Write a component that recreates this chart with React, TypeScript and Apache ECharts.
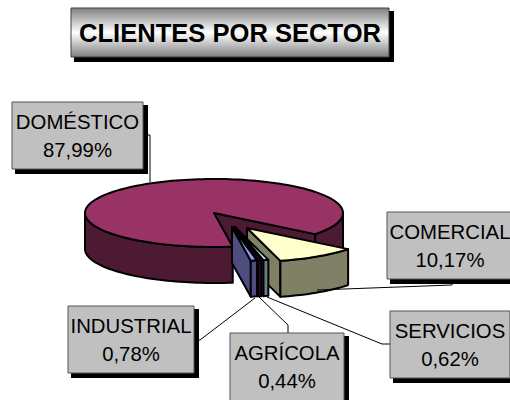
import React, { useEffect, useRef } from "react";
import * as echarts from "echarts";

const titleText = "CLIENTES POR SECTOR";
const categories = ["DOMÉSTICO", "COMERCIAL", "SERVICIOS", "AGRÍCOLA", "INDUSTRIAL"];
const shares = [87.99, 10.17, 0.62, 0.44, 0.78];
const shareLabels = ["87,99%", "10,17%", "0,62%", "0,44%", "0,78%"];

const topColors = ["#993366", "#FFFFCC", "#CCFFFF", "#660066", "#9999FF"];
const sideColors = ["#4D1A33", "#808066", "#668080", "#330033", "#4D4D80"];
const explodeX = [0, 33, 21, 19, 18];
const explodeY = [0, 15, 14, 14, 14];
const paintOrder = [0, 1, 2, 3, 4];
// label boxes: x, y, w, h
const boxes = [
  [12, 102, 131, 67],
  [387, 212, 126, 67],
  [390, 311, 120, 67],
  [230, 333, 114, 72],
  [68, 306, 126, 67],
];
const leaders = [
  [[150, 182], [150, 135], [147, 135]],
  [[317, 290], [452, 285], [452, 283]],
  [[267, 297], [382, 344], [390, 344]],
  [[259, 297], [288, 325], [288, 333]],
  [[255, 298], [200, 340], [197, 340]],
];

const CX = 214, CY = 213, RX = 129, RY = 34, DEPTH = 36;
const START = 38.4; // degrees, in ellipse parameter, screen-clockwise

function sliceAngles() {
  const total = shares.reduce((a, b) => a + b, 0);
  const out: number[][] = [];
  let a = START + (-shares[0] / total) * 360; // Doméstico ends at START
  for (let i = 0; i < shares.length; i++) {
    const sweep = (shares[i] / total) * 360;
    out.push([a, a + sweep]);
    a += sweep;
  }
  return out;
}

const D2R = Math.PI / 180;
function arcPts(cx: number, cy: number, a0: number, a1: number) {
  const n = Math.max(2, Math.ceil(Math.abs(a1 - a0) / 2));
  const pts: number[][] = [];
  for (let i = 0; i <= n; i++) {
    const t = (a0 + ((a1 - a0) * i) / n) * D2R;
    pts.push([cx + RX * Math.cos(t), cy + RY * Math.sin(t)]);
  }
  return pts;
}

function polygon(points: number[][], fill: string) {
  return {
    type: "polygon",
    shape: { points },
    style: { fill, stroke: "#000", lineWidth: 2, lineJoin: "round" },
    silent: true,
  };
}

function renderSlice(_: any, api: any) {
  const i = api.value(0) as number;
  const [a0, a1] = sliceAngles()[i];
  const cx = CX + explodeX[i];
  const cy = CY + explodeY[i];
  const children: any[] = [];
  const P = (a: number) => [cx + RX * Math.cos(a * D2R), cy + RY * Math.sin(a * D2R)];

  // Cut wall at the slice's far end, the one that faces the viewer
  const p = P(a1);
  children.push(polygon([[cx, cy], p, [p[0], p[1] + DEPTH], [cx, cy + DEPTH]], sideColors[i]));

  // Outer wall: only the part with sin(t) >= 0 shows
  for (const k of [0, 360, -360]) {
    const lo = Math.max(a0, k);
    const hi = Math.min(a1, 180 + k);
    if (hi > lo) {
      const top = arcPts(cx, cy, lo, hi);
      const bottom = top.map((q) => [q[0], q[1] + DEPTH]).reverse();
      children.push(polygon([...top, ...bottom], sideColors[i]));
    }
  }

  // Top face
  children.push(polygon([[cx, cy], ...arcPts(cx, cy, a0, a1)], topColors[i]));
  return { type: "group", children };
}

export default function App() {
  const ref = useRef<HTMLDivElement>(null);
  useEffect(() => {
    const chart = echarts.init(ref.current!, undefined, { renderer: "svg" });
    const graphic: any[] = [];
    graphic.push({ type: "rect", z: 1, shape: { x: 74, y: 11, width: 320, height: 51 }, style: { fill: "#000" }, silent: true });
    graphic.push({
      type: "rect", z: 2,
      shape: { x: 71, y: 8, width: 318, height: 49 },
      style: {
        fill: new echarts.graphic.LinearGradient(0, 0, 0, 1, [
          { offset: 0, color: "#808080" },
          { offset: 0.5, color: "#FFFFFF" },
          { offset: 1, color: "#808080" },
        ]),
        stroke: "#404040", lineWidth: 1,
      },
      silent: true,
    });
    graphic.push({
      type: "text", z: 3, x: 230, y: 33, scaleX: 0.965,
      style: {
        text: titleText, fill: "#000", align: "center", verticalAlign: "middle",
        font: 'bold 26.5px "Liberation Sans", Arial, sans-serif',
      },
      silent: true,
    });
    leaders.forEach((pts) => {
      graphic.push({ type: "polyline", z: 4, shape: { points: pts }, style: { fill: "none", stroke: "#000", lineWidth: 1 }, silent: true });
    });
    categories.forEach((c, i) => {
      const [x, y, w, h] = boxes[i];
      graphic.push({ type: "rect", z: 5, shape: { x: x + 3, y: y + 3, width: w + 2, height: h + 2 }, style: { fill: "#000" }, silent: true });
      graphic.push({ type: "rect", z: 6, shape: { x, y, width: w, height: h }, style: { fill: "#C0C0C0", stroke: "#555", lineWidth: 1 }, silent: true });
      const font = '21px "Liberation Sans", Arial, sans-serif';
      const cx = x + w / 2;
      graphic.push({ type: "text", z: 7, x: cx, y: y + 19, scaleX: 0.97, style: { text: c, fill: "#000", align: "center", verticalAlign: "middle", font }, silent: true });
      graphic.push({ type: "text", z: 7, x: cx, y: y + 47, scaleX: 0.97, style: { text: shareLabels[i], fill: "#000", align: "center", verticalAlign: "middle", font }, silent: true });
    });
    chart.setOption({
      animation: false,
      xAxis: { show: false, min: 0, max: 1 },
      yAxis: { show: false, min: 0, max: 1 },
      grid: { left: 0, right: 0, top: 0, bottom: 0 },
      graphic,
      series: [
        {
          type: "custom",
          coordinateSystem: "none",
          renderItem: renderSlice,
          data: paintOrder.map((i) => [i, shares[i]]),
          encode: { value: 1 },
          z: 2,
          silent: true,
        },
      ],
    });
    return () => chart.dispose();
  }, []);
  return <div ref={ref} style={{ position: "fixed", left: 0, top: 0, width: 510, height: 400, background: "#fff" }} />;
}
